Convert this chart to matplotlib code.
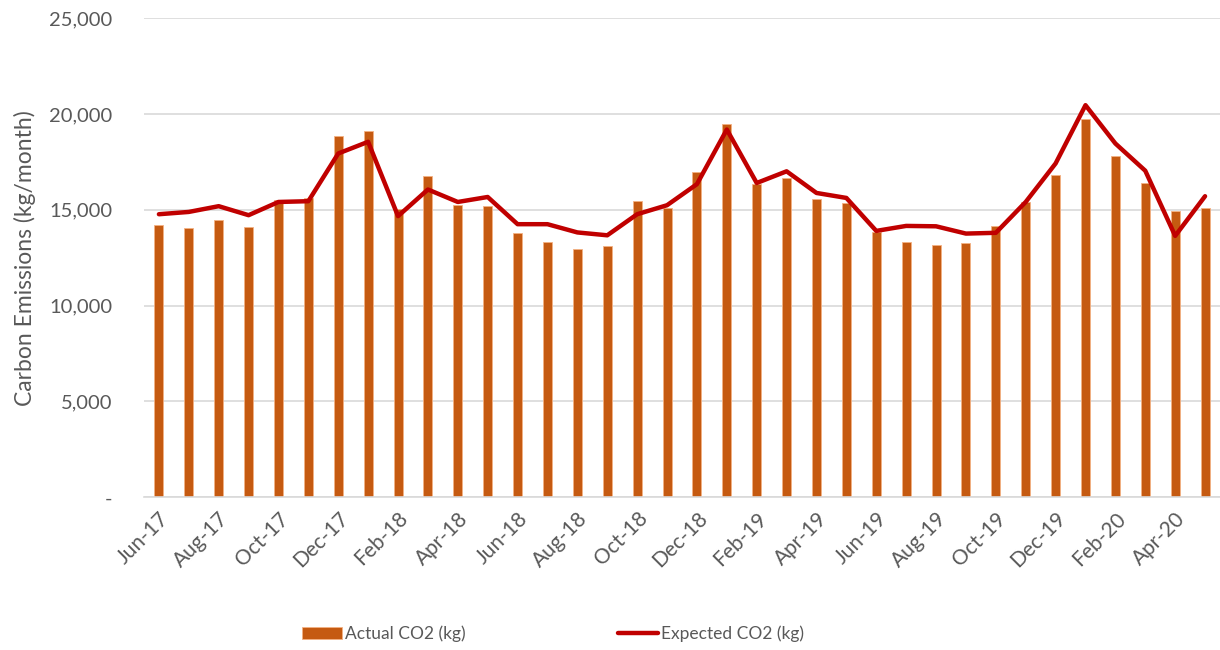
import matplotlib.pyplot as plt
import numpy as np
from matplotlib.ticker import FuncFormatter

# Monthly data, Jun-17 .. May-20
months = ['Jun-17', 'Jul-17', 'Aug-17', 'Sep-17', 'Oct-17', 'Nov-17', 'Dec-17', 'Jan-18',
          'Feb-18', 'Mar-18', 'Apr-18', 'May-18', 'Jun-18', 'Jul-18', 'Aug-18', 'Sep-18',
          'Oct-18', 'Nov-18', 'Dec-18', 'Jan-19', 'Feb-19', 'Mar-19', 'Apr-19', 'May-19',
          'Jun-19', 'Jul-19', 'Aug-19', 'Sep-19', 'Oct-19', 'Nov-19', 'Dec-19', 'Jan-20',
          'Feb-20', 'Mar-20', 'Apr-20', 'May-20']

actual_co2 = [14190, 14040, 14460, 14090, 15500, 15640, 18840, 19100,
              15050, 16750, 15240, 15190, 13800, 13340, 12960, 13120,
              15470, 15100, 16980, 19500, 16370, 16670, 15550, 15330,
              13850, 13340, 13190, 13260, 14160, 15410, 16800, 19730,
              17830, 16400, 14930, 15120]

expected_co2 = [14770, 14890, 15190, 14720, 15410, 15450, 17940, 18550,
                14670, 16060, 15410, 15670, 14250, 14250, 13820, 13670,
                14770, 15240, 16340, 19190, 16400, 17010, 15880, 15620,
                13900, 14160, 14140, 13760, 13800, 15410, 17420, 20460,
                18460, 17040, 13640, 15710]

plt.rcParams['font.family'] = ['Lato', 'DejaVu Sans']
text_col = '#595959'

fig = plt.figure(figsize=(12.2, 6.5), dpi=100)
ax = fig.add_axes([0.118, 0.235, 0.882, 0.737])

x = np.arange(len(months))
bars = ax.bar(x, actual_co2, width=0.3, color='#C55A11', edgecolor='#F4B183',
              linewidth=0.6, label='Actual CO2 (kg)', zorder=2)
line, = ax.plot(x, expected_co2, color='#C00000', linewidth=3.2,
                solid_joinstyle='round', solid_capstyle='round',
                label='Expected CO2 (kg)', zorder=3)

ax.set_xlim(-0.5, len(months) - 0.5)
ax.set_ylim(0, 25000)
ax.set_yticks(np.arange(0, 25001, 5000))
ax.yaxis.set_major_formatter(FuncFormatter(lambda v, p: '-' if v == 0 else f'{v:,.0f}'))
ax.grid(axis='y', color='#D9D9D9', linewidth=1.2, zorder=0)
ax.set_axisbelow(True)

ax.set_xticks(x[::2])
ax.set_xticklabels(months[::2], rotation=45, ha='right', rotation_mode='anchor',
                   fontsize=15, color=text_col)
ax.tick_params(axis='y', labelsize=14.5, labelcolor=text_col, length=0, pad=23)
ax.tick_params(axis='x', length=0, pad=8)

for s in ['top', 'right', 'left']:
    ax.spines[s].set_visible(False)
ax.spines['bottom'].set_color('#D9D9D9')
ax.spines['bottom'].set_linewidth(1.2)

ax.set_ylabel('Carbon Emissions (kg/month)', fontsize=16.5, color=text_col, labelpad=9)

fig.legend([bars, line], ['Actual CO2 (kg)', 'Expected CO2 (kg)'],
           loc='center', bbox_to_anchor=(553 / 1220, 1 - 634 / 650), ncol=2,
           frameon=False, fontsize=12.5, labelcolor=text_col,
           columnspacing=8.8, handlelength=2.3, handletextpad=0.15)

fig.savefig('out.png', dpi=100)
